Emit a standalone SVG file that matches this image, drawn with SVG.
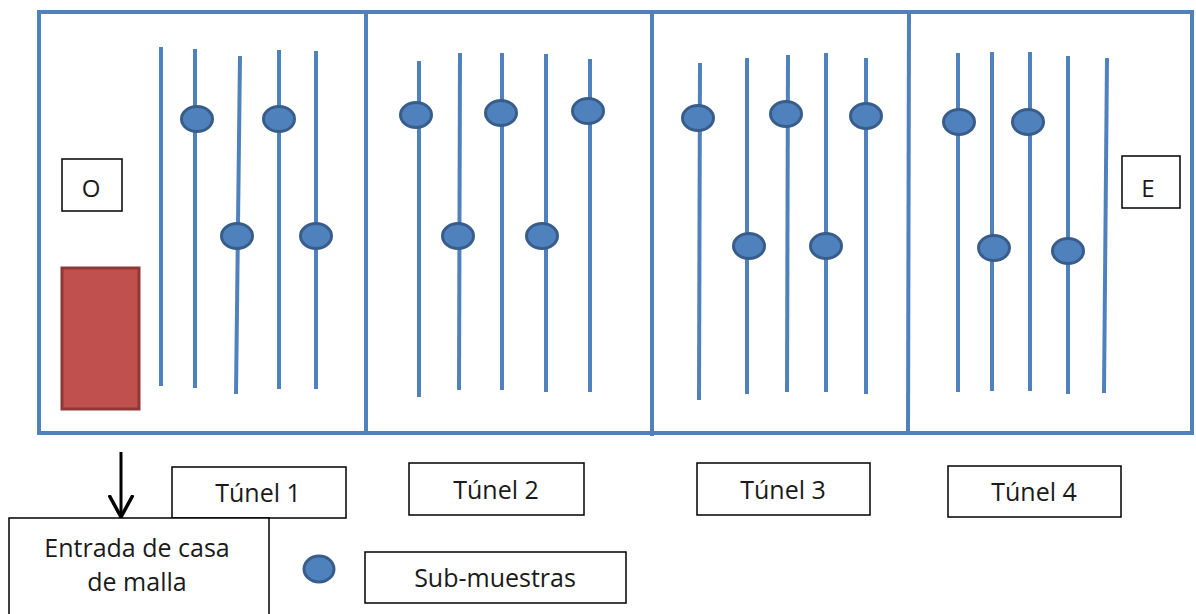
<svg xmlns="http://www.w3.org/2000/svg" width="1196" height="614" viewBox="0 0 1196 614">
<defs>
<style>
.frame{fill:none;stroke:#4f81bd;stroke-width:4}
.row{stroke:#4f81bd;stroke-width:4;stroke-linecap:butt}
.dot{fill:#4f81bd;stroke:#385d8a;stroke-width:3}
.box{fill:#fff;stroke:#000;stroke-width:1.5}
.t{font-family:"Open Sans","Liberation Sans",sans-serif;font-size:25px;fill:#1a1a1a;text-anchor:middle}
.s{font-size:24px}
</style>
<marker id="ah" viewBox="0 0 24 26" markerWidth="24" markerHeight="26" refX="22" refY="13" orient="auto" markerUnits="userSpaceOnUse">
<path d="M0,1 L22,13 L0,25" fill="none" stroke="#000" stroke-width="3.5"/>
</marker>
</defs>
<rect width="1196" height="614" fill="#fff"/>
<g id="greenhouse">
<rect class="frame" x="39" y="12" width="1153" height="421"/>
<line class="frame" x1="366" y1="12" x2="366" y2="435"/>
<line class="frame" x1="652" y1="12" x2="652" y2="436"/>
<line class="frame" x1="909" y1="12" x2="908" y2="433"/>
</g>
<g id="tunel1-rows">
<line class="row" x1="161" y1="47" x2="161" y2="386"/>
<line class="row" x1="195" y1="49" x2="195" y2="388"/>
<line class="row" x1="240" y1="56" x2="236" y2="394"/>
<line class="row" x1="279" y1="50" x2="279" y2="389"/>
<line class="row" x1="316" y1="51" x2="316" y2="389"/>
<ellipse class="dot" cx="197" cy="119" rx="15.5" ry="12.5"/>
<ellipse class="dot" cx="279" cy="119" rx="15.5" ry="12.5"/>
<ellipse class="dot" cx="237" cy="236" rx="15.5" ry="12.5"/>
<ellipse class="dot" cx="316" cy="236" rx="15.5" ry="12.5"/>
</g>
<g id="tunel2-rows">
<line class="row" x1="419" y1="61" x2="419" y2="397"/>
<line class="row" x1="460" y1="53" x2="459" y2="390"/>
<line class="row" x1="502" y1="53" x2="502" y2="390"/>
<line class="row" x1="546" y1="54" x2="546" y2="392"/>
<line class="row" x1="590" y1="59" x2="590" y2="392"/>
<ellipse class="dot" cx="416" cy="115" rx="15.5" ry="12.5"/>
<ellipse class="dot" cx="501" cy="113" rx="15.5" ry="12.5"/>
<ellipse class="dot" cx="588" cy="111" rx="15.5" ry="12.5"/>
<ellipse class="dot" cx="458" cy="236" rx="15.5" ry="12.5"/>
<ellipse class="dot" cx="542" cy="236" rx="15.5" ry="12.5"/>
</g>
<g id="tunel3-rows">
<line class="row" x1="700" y1="63" x2="699" y2="400"/>
<line class="row" x1="747" y1="58" x2="747" y2="394"/>
<line class="row" x1="788" y1="55" x2="787" y2="392"/>
<line class="row" x1="826" y1="53" x2="826" y2="392"/>
<line class="row" x1="866" y1="58" x2="866" y2="394"/>
<ellipse class="dot" cx="698" cy="118" rx="15.5" ry="12.5"/>
<ellipse class="dot" cx="786" cy="114" rx="15.5" ry="12.5"/>
<ellipse class="dot" cx="866" cy="116" rx="15.5" ry="12.5"/>
<ellipse class="dot" cx="749" cy="246" rx="15.5" ry="12.5"/>
<ellipse class="dot" cx="826" cy="246" rx="15.5" ry="12.5"/>
</g>
<g id="tunel4-rows">
<line class="row" x1="958" y1="53" x2="958" y2="392"/>
<line class="row" x1="992" y1="52" x2="992" y2="391"/>
<line class="row" x1="1030" y1="52" x2="1030" y2="391"/>
<line class="row" x1="1068" y1="56" x2="1068" y2="394"/>
<line class="row" x1="1107" y1="58" x2="1104" y2="393"/>
<ellipse class="dot" cx="959" cy="122" rx="15.5" ry="12.5"/>
<ellipse class="dot" cx="1028" cy="122" rx="15.5" ry="12.5"/>
<ellipse class="dot" cx="994" cy="248" rx="15.5" ry="12.5"/>
<ellipse class="dot" cx="1068" cy="251" rx="15.5" ry="12.5"/>
</g>
<g id="node-O">
<rect class="box" x="62" y="159" width="60" height="52"/>
<text class="t s" x="91" y="197">O</text>
</g>
<g id="node-E">
<rect class="box" x="1122" y="156" width="58" height="52"/>
<text class="t s" x="1148" y="197">E</text>
</g>
<g id="entrance-door">
<rect x="62" y="268" width="77" height="141" fill="#c0504d" stroke="#8c3836" stroke-width="3"/>
</g>
<g id="connectors">
<line x1="121" y1="452" x2="121" y2="517" stroke="#000" stroke-width="3" marker-end="url(#ah)"/>
</g>
<g id="label-tunel1">
<rect class="box" x="172" y="467" width="174" height="51"/>
<text class="t" x="258" y="502">Túnel 1</text>
</g>
<g id="label-tunel2">
<rect class="box" x="409" y="463" width="175" height="52"/>
<text class="t" x="496" y="499">Túnel 2</text>
</g>
<g id="label-tunel3">
<rect class="box" x="697" y="463" width="173" height="52"/>
<text class="t" x="783" y="499">Túnel 3</text>
</g>
<g id="label-tunel4">
<rect class="box" x="948" y="466" width="173" height="51"/>
<text class="t" x="1034" y="501">Túnel 4</text>
</g>
<g id="node-entrada">
<rect class="box" x="9" y="518" width="260" height="110"/>
<text class="t" x="137" y="557">Entrada de casa</text>
<text class="t" x="137" y="591">de malla</text>
</g>
<g id="legend">
<ellipse class="dot" cx="319" cy="569" rx="15" ry="13"/>
<rect class="box" x="365" y="552" width="261" height="51"/>
<text class="t" x="495" y="587">Sub-muestras</text>
</g>
</svg>
